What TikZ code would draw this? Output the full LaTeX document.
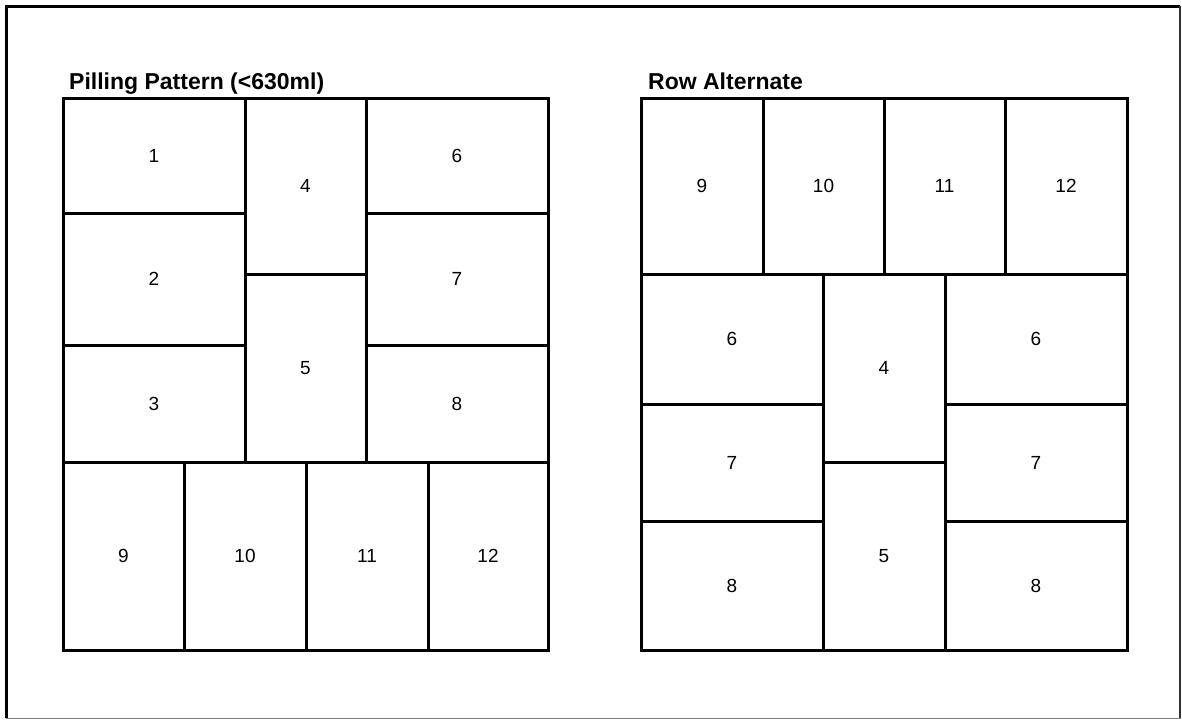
\documentclass[tikz,border=0pt]{standalone}
\usepackage{fontspec}
\setmainfont{Liberation Sans}
\tikzset{
  cell/.style={draw, line width=3pt, inner sep=0pt, outer sep=0pt, font=\fontsize{19}{22}\selectfont},
  heading/.style={anchor=base west, inner sep=0pt, font=\fontsize{23}{26}\selectfont\bfseries}
}
\begin{document}
\begin{tikzpicture}[x=1pt,y=-1pt]
\useasboundingbox (0,0) rectangle (1182,720);
% frame
\draw[line width=3pt] (6,718) -- (6,6) -- (1180,6);
\draw[line width=2pt, black!80] (1180,6) -- (1180,718);
\draw[line width=1pt, gray] (6,718.5) -- (1181,718.5);
% left pattern
\node[heading] (ptitle) at (69,89) {Pilling Pattern (<630ml)};
\node[cell, minimum width=182pt, minimum height=115pt] (p1) at (154,155.5) {1};
\node[cell, minimum width=182pt, minimum height=132pt] (p2) at (154,279) {2};
\node[cell, minimum width=182pt, minimum height=117pt] (p3) at (154,403.5) {3};
\node[cell, minimum width=121pt, minimum height=176pt] (p4) at (305.5,186) {4};
\node[cell, minimum width=121pt, minimum height=188pt] (p5) at (305.5,368) {5};
\node[cell, minimum width=182pt, minimum height=115pt] (p6) at (457,155.5) {6};
\node[cell, minimum width=182pt, minimum height=132pt] (p7) at (457,279) {7};
\node[cell, minimum width=182pt, minimum height=117pt] (p8) at (457,403.5) {8};
\node[cell, minimum width=121pt, minimum height=188pt] (p9) at (123.5,556) {9};
\node[cell, minimum width=122pt, minimum height=188pt] (p10) at (245,556) {10};
\node[cell, minimum width=122pt, minimum height=188pt] (p11) at (367,556) {11};
\node[cell, minimum width=120pt, minimum height=188pt] (p12) at (488,556) {12};
% right pattern
\node[heading] (rtitle) at (648,89) {Row Alternate};
\node[cell, minimum width=122pt, minimum height=176pt] (r9) at (702,186) {9};
\node[cell, minimum width=121pt, minimum height=176pt] (r10) at (823.5,186) {10};
\node[cell, minimum width=121pt, minimum height=176pt] (r11) at (944.5,186) {11};
\node[cell, minimum width=122pt, minimum height=176pt] (r12) at (1066,186) {12};
\node[cell, minimum width=182pt, minimum height=130pt] (r6a) at (732,339) {6};
\node[cell, minimum width=182pt, minimum height=117pt] (r7a) at (732,462.5) {7};
\node[cell, minimum width=182pt, minimum height=129pt] (r8a) at (732,585.5) {8};
\node[cell, minimum width=122pt, minimum height=188pt] (r4) at (884,368) {4};
\node[cell, minimum width=122pt, minimum height=188pt] (r5) at (884,556) {5};
\node[cell, minimum width=182pt, minimum height=130pt] (r6b) at (1036,339) {6};
\node[cell, minimum width=182pt, minimum height=117pt] (r7b) at (1036,462.5) {7};
\node[cell, minimum width=182pt, minimum height=129pt] (r8b) at (1036,585.5) {8};
\end{tikzpicture}
\end{document}
